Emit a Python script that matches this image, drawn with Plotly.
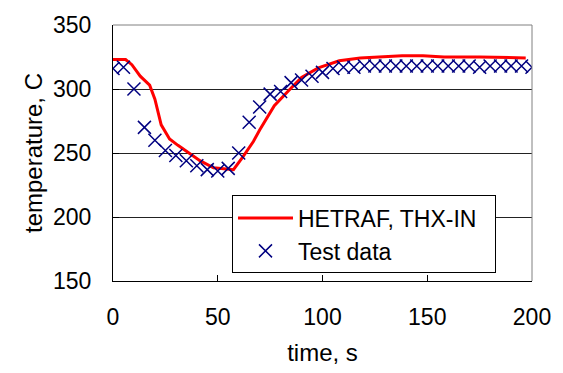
import plotly.graph_objects as go

# HETRAF simulation (red line)
sim_t = [0, 6, 9, 13, 17.5, 20, 23, 27, 31, 36, 41.5, 48, 54, 57.5, 62, 67, 70, 77, 84, 90,
         98, 108, 118, 126, 138, 148, 158, 175, 185, 197]
sim_T = [323, 323, 319, 310, 303, 292, 272, 261, 256, 250, 244, 238.5, 237.5, 237, 247, 259, 268,
         287, 299, 309, 316.5, 322, 324.3, 325, 326, 326, 325, 325, 324.8, 324.3]

# Test data (blue x markers)
test_t = list(range(0, 205, 5))
test_T = [316, 317, 300, 270, 260, 252, 248, 244, 240, 237, 236, 238, 250, 274, 286, 296, 298,
          305, 307, 310, 313, 316, 317, 317, 318, 318, 318, 318, 318, 318, 318, 318, 318, 318,
          318, 317, 318, 318, 318, 318, 317]

FONT = "Liberation Sans, Arial, sans-serif"

fig = go.Figure()
fig.add_trace(go.Scatter(x=sim_t, y=sim_T, mode="lines", name="HETRAF, THX-IN\u00a0\u00a0",
                         line=dict(color="#FF0000", width=3), legendgroup="a"))
fig.add_trace(go.Scatter(x=test_t, y=test_T, mode="markers", name="Test data",
                         marker=dict(symbol="x-thin-open", size=13, color="#000080",
                                     line=dict(color="#000080", width=1.5)),
                         legendgroup="b"))

fig.update_layout(
    width=563, height=373,
    margin=dict(l=113, r=31, t=19, b=90),
    paper_bgcolor="white", plot_bgcolor="white",
    font=dict(family=FONT, size=23, color="black"),
    showlegend=True,
    legend=dict(x=0.284, y=0.334, xanchor="left", yanchor="top",
                bgcolor="white", bordercolor="black", borderwidth=1,
                font=dict(size=23), tracegroupgap=0, itemwidth=55),
    xaxis=dict(range=[0, 200], tickvals=[0, 50, 100, 150, 200], ticks="inside", ticklen=6,
               tickcolor="black", showline=True, linecolor="black", linewidth=1,
               showgrid=False, zeroline=False, ticklabelstandoff=15,
               title=dict(text="time, s", font=dict(size=24), standoff=15)),
    yaxis=dict(range=[150, 350], tickvals=[150, 200, 250, 300, 350], ticks="inside", ticklen=6,
               tickcolor="black", showline=True, linecolor="black", linewidth=1,
               showgrid=True, gridcolor="#222222", gridwidth=1, zeroline=False,
               ticklabelstandoff=16,
               title=dict(text="temperature, C", font=dict(size=24), standoff=3)),
    shapes=[
        dict(type="line", xref="paper", yref="paper", x0=0, x1=1, y0=1, y1=1,
             line=dict(color="#808080", width=1), layer="above"),
        dict(type="line", xref="paper", yref="paper", x0=1, x1=1, y0=0, y1=1,
             line=dict(color="#808080", width=1), layer="above"),
    ],
)

fig.write_html("out.html")
